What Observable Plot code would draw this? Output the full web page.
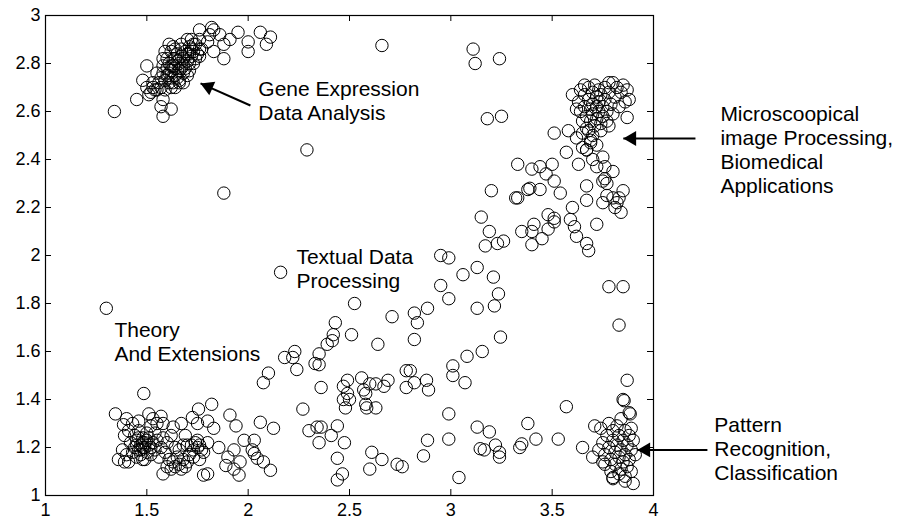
<!DOCTYPE html>
<html>
<head>
<meta charset="utf-8">
<script src="https://cdn.jsdelivr.net/npm/d3@7"></script>
<script src="https://cdn.jsdelivr.net/npm/@observablehq/plot@0.6"></script>
<style>
  html, body { margin: 0; padding: 0; background: #fff; }
</style>
</head>
<body>
<div id="chart"></div>
<script>
// ---- tick values / labels ----
const xTicks = [1, 1.5, 2, 2.5, 3, 3.5, 4];
const xTickLabels = ["1", "1.5", "2", "2.5", "3", "3.5", "4"];
const yTicks = [1, 1.2, 1.4, 1.6, 1.8, 2, 2.2, 2.4, 2.6, 2.8, 3];
const yTickLabels = ["1", "1.2", "1.4", "1.6", "1.8", "2", "2.2", "2.4", "2.6", "2.8", "3"];

// ---- point data [x, y] ----
const geneCore = [[1.56,2.72],[1.57,2.74],[1.58,2.76],[1.59,2.73],[1.60,2.75],[1.60,2.78],[1.61,2.72],[1.61,2.80],[1.62,2.74],[1.62,2.77],[1.63,2.79],[1.63,2.82],[1.64,2.75],[1.64,2.78],[1.65,2.81],[1.65,2.84],[1.66,2.77],[1.66,2.80],[1.67,2.83],[1.67,2.86],[1.68,2.79],[1.68,2.82],[1.69,2.85],[1.70,2.81],[1.70,2.84],[1.71,2.87],[1.72,2.83],[1.72,2.86],[1.73,2.85],[1.74,2.88],[1.60,2.82],[1.62,2.85],[1.65,2.74],[1.68,2.76],[1.58,2.79],[1.57,2.70],[1.59,2.69],[1.63,2.72],[1.66,2.73],[1.69,2.78],[1.75,2.84],[1.71,2.80],[1.64,2.86],[1.67,2.88],[1.61,2.88],[1.53,2.72],[1.54,2.69],[1.52,2.68],[1.58,2.82],[1.61,2.76],[1.64,2.82],[1.67,2.78],[1.70,2.75],[1.73,2.80],[1.76,2.86],[1.74,2.82],[1.71,2.77],[1.62,2.79]];
const geneOuter = [[1.34,2.60],[1.45,2.65],[1.50,2.79],[1.48,2.73],[1.51,2.67],[1.58,2.58],[1.57,2.62],[1.58,2.65],[1.62,2.61],[1.62,2.70],[1.50,2.70],[1.53,2.70],[1.55,2.69],[1.76,2.94],[1.72,2.90],[1.76,2.90],[1.82,2.95],[1.83,2.94],[1.86,2.92],[1.81,2.92],[1.80,2.89],[1.83,2.85],[1.88,2.82],[1.88,2.88],[1.91,2.90],[1.95,2.93],[2.00,2.89],[2.00,2.85],[2.06,2.93],[2.09,2.88],[2.11,2.91],[1.76,2.83],[1.77,2.86],[1.71,2.84],[1.68,2.72],[1.66,2.72],[1.64,2.70],[1.55,2.76],[1.59,2.85],[1.63,2.87],[1.70,2.90],[1.73,2.88],[1.88,2.26]];
const upperScatter = [[2.66,2.875],[3.11,2.86],[3.12,2.80],[3.24,2.82],[3.18,2.57],[3.25,2.58],[2.29,2.44],[3.33,2.38],[3.40,2.36],[3.44,2.37],[3.50,2.38],[3.47,2.34]];
const microCore = [[3.63,2.64],[3.64,2.60],[3.65,2.56],[3.66,2.67],[3.66,2.62],[3.67,2.58],[3.67,2.53],[3.68,2.70],[3.68,2.65],[3.69,2.61],[3.69,2.56],[3.70,2.68],[3.70,2.63],[3.70,2.59],[3.71,2.54],[3.71,2.71],[3.72,2.66],[3.72,2.62],[3.72,2.57],[3.73,2.69],[3.73,2.64],[3.73,2.60],[3.74,2.55],[3.74,2.67],[3.75,2.62],[3.75,2.58],[3.76,2.70],[3.76,2.65],[3.77,2.60],[3.77,2.56],[3.78,2.68],[3.79,2.63],[3.80,2.59],[3.81,2.66],[3.82,2.70],[3.83,2.62],[3.84,2.68],[3.86,2.64],[3.66,2.71],[3.64,2.69],[3.62,2.61],[3.65,2.51],[3.68,2.52],[3.70,2.50],[3.74,2.52],[3.78,2.54],[3.69,2.47],[3.72,2.46],[3.67,2.44]];
const rightTrack = [[3.51,2.51],[3.57,2.43],[3.58,2.52],[3.51,2.31],[3.54,2.26],[3.20,2.27],[3.32,2.24],[3.33,2.24],[3.38,2.275],[3.39,2.28],[3.44,2.275],[3.15,2.16],[3.19,2.10],[3.17,2.04],[3.23,2.05],[3.26,2.06],[3.35,2.10],[3.40,2.10],[3.41,2.13],[3.40,2.045],[3.45,2.07],[3.48,2.17],[3.51,2.155],[3.51,2.14],[3.48,2.11],[3.59,2.15],[3.60,2.20],[3.61,2.12],[3.62,2.08],[3.67,2.05],[3.68,2.02],[3.67,2.23],[3.67,2.29],[3.72,2.13],[3.75,2.22],[3.80,2.24],[3.82,2.22],[3.83,2.24],[3.85,2.27],[3.84,2.18],[3.81,2.20],[3.77,2.25],[3.63,2.38],[3.70,2.40],[3.72,2.37],[3.75,2.41],[3.76,2.37],[3.80,2.35],[3.76,2.32],[3.77,2.30],[3.75,2.31],[3.65,2.45],[3.67,2.44],[3.69,2.48],[3.62,2.49],[3.87,2.575],[3.88,2.65],[3.87,2.69],[3.85,2.71],[3.80,2.72],[3.78,2.72],[3.60,2.67]];
const textualMiddle = [[2.95,2.00],[2.99,1.99],[3.06,1.92],[3.13,1.95],[3.21,1.91],[2.95,1.875],[2.99,1.82],[3.235,1.84],[3.13,1.78],[3.215,1.79],[2.885,1.78],[2.82,1.76],[2.835,1.72],[2.82,1.65],[3.245,1.66],[3.155,1.60],[3.08,1.58],[3.01,1.54],[3.01,1.50],[3.07,1.47],[2.78,1.52],[2.80,1.52],[2.82,1.47],[2.78,1.45],[2.88,1.48],[2.89,1.44],[2.16,1.93],[2.525,1.80],[2.71,1.745],[2.43,1.72],[2.42,1.67],[2.39,1.63],[2.415,1.645],[2.51,1.67],[2.64,1.63],[2.23,1.60],[2.18,1.575],[2.22,1.575],[2.24,1.525],[2.35,1.59],[2.33,1.55],[2.35,1.545],[2.10,1.51],[2.075,1.47],[2.36,1.45],[2.49,1.48],[2.47,1.455],[2.49,1.425],[2.47,1.40],[2.56,1.49],[2.57,1.44],[2.58,1.425],[2.60,1.465],[2.63,1.465],[2.69,1.48],[2.67,1.455],[1.30,1.78],[1.485,1.425]];
const lowerMiddle = [[2.50,1.40],[2.48,1.365],[2.58,1.38],[2.585,1.365],[2.63,1.365],[2.27,1.36],[2.30,1.27],[2.34,1.285],[2.36,1.285],[2.44,1.29],[2.41,1.25],[2.35,1.22],[2.475,1.22],[2.44,1.155],[2.465,1.09],[2.44,1.065],[2.61,1.18],[2.66,1.15],[2.60,1.11],[2.735,1.13],[2.76,1.12],[2.865,1.165],[2.885,1.23],[2.99,1.34],[2.99,1.235],[3.04,1.075],[3.13,1.285],[3.19,1.265],[3.145,1.195],[3.165,1.19],[3.22,1.21],[3.24,1.18],[3.24,1.16],[3.34,1.20],[3.35,1.215],[3.38,1.30],[3.42,1.235],[3.53,1.235],[3.57,1.37]];
const patternOuter = [[3.78,1.87],[3.85,1.87],[3.83,1.71],[3.87,1.48],[3.85,1.40],[3.855,1.395],[3.88,1.345],[3.885,1.34],[3.65,1.20],[3.71,1.29],[3.70,1.16],[3.90,1.05],[3.80,1.075]];
const patternCore = [[3.74,1.28],[3.75,1.22],[3.76,1.17],[3.76,1.13],[3.77,1.25],[3.78,1.30],[3.78,1.20],[3.79,1.15],[3.79,1.10],[3.80,1.27],[3.80,1.23],[3.81,1.18],[3.81,1.13],[3.82,1.29],[3.82,1.21],[3.83,1.16],[3.83,1.25],[3.84,1.11],[3.84,1.19],[3.85,1.23],[3.85,1.14],[3.86,1.27],[3.86,1.17],[3.86,1.08],[3.87,1.21],[3.87,1.12],[3.88,1.25],[3.88,1.15],[3.89,1.19],[3.89,1.10],[3.90,1.23],[3.91,1.17],[3.84,1.32],[3.80,1.07],[3.86,1.06],[3.73,1.19],[3.75,1.14],[3.83,1.09],[3.89,1.28]];
const theoryCore = [[1.42,1.22],[1.43,1.18],[1.44,1.25],[1.44,1.20],[1.45,1.16],[1.45,1.23],[1.46,1.19],[1.46,1.27],[1.47,1.21],[1.47,1.17],[1.48,1.24],[1.48,1.20],[1.49,1.15],[1.49,1.22],[1.50,1.26],[1.50,1.18],[1.51,1.21],[1.51,1.24],[1.52,1.17],[1.52,1.29],[1.53,1.22],[1.54,1.19],[1.54,1.26],[1.55,1.23],[1.56,1.16],[1.57,1.20],[1.58,1.24],[1.59,1.18],[1.60,1.22],[1.61,1.15],[1.62,1.25],[1.41,1.27],[1.43,1.30],[1.46,1.31],[1.53,1.32],[1.55,1.30],[1.40,1.17],[1.41,1.14],[1.38,1.19],[1.39,1.25],[1.45,1.21],[1.47,1.19],[1.48,1.22],[1.49,1.20],[1.50,1.23],[1.46,1.24],[1.52,1.20]];
const theorySub = [[1.63,1.14],[1.64,1.12],[1.65,1.16],[1.66,1.13],[1.67,1.11],[1.68,1.15],[1.69,1.12],[1.70,1.14],[1.71,1.17],[1.66,1.19],[1.64,1.20],[1.62,1.11],[1.60,1.12],[1.72,1.21],[1.73,1.19],[1.74,1.22],[1.75,1.20],[1.76,1.21],[1.77,1.19],[1.75,1.23],[1.73,1.16],[1.76,1.15],[1.70,1.21],[1.68,1.21],[1.69,1.25]];
const theoryOuter = [[1.345,1.34],[1.36,1.15],[1.39,1.14],[1.40,1.32],[1.385,1.295],[1.51,1.34],[1.57,1.33],[1.58,1.30],[1.67,1.30],[1.63,1.285],[1.725,1.325],[1.75,1.30],[1.755,1.36],[1.82,1.38],[1.80,1.31],[1.83,1.28],[1.855,1.20],[1.80,1.22],[1.78,1.18],[1.91,1.335],[1.94,1.29],[2.06,1.305],[2.125,1.28],[1.98,1.23],[2.03,1.23],[2.02,1.19],[2.03,1.175],[1.93,1.19],[1.90,1.16],[1.96,1.14],[1.89,1.125],[1.93,1.11],[1.955,1.085],[2.075,1.14],[2.11,1.105],[2.045,1.155],[1.78,1.085],[1.80,1.09],[1.58,1.09],[1.48,1.15]];

// ---- annotations ----
const labelTexts = ["Gene Expression\nData Analysis", "Microscoopical\nimage Processing,\nBiomedical\nApplications", "Pattern\nRecognition,\nClassification", "Textual Data\nProcessing", "Theory\nAnd Extensions"];
const labelX = [2.05, 4.33, 4.30, 2.238, 1.34];
const labelY = [2.645, 2.442, 1.197, 1.948, 1.644];
// arrows: tail -> tip
const arrowTailX = [2.011, 4.207, 4.266];
const arrowTailY = [2.625, 2.4875, 1.19];
const arrowTipX = [1.765, 3.851, 3.92];
const arrowTipY = [2.717, 2.4875, 1.19];

const points = [geneCore, geneOuter, upperScatter, microCore, rightTrack, textualMiddle, lowerMiddle, patternOuter, patternCore, theoryCore, theorySub, theoryOuter]
  .flat().map(([x, y]) => ({x, y}));
const labels = labelTexts.map((t, i) => ({t, x: labelX[i], y: labelY[i]}));
const arrows = arrowTipX.map((x, i) => ({x1: arrowTailX[i], y1: arrowTailY[i], x2: x, y2: arrowTipY[i]}));

const chart = Plot.plot({
  width: 898,
  height: 520,
  marginLeft: 45,
  marginRight: 245,
  marginTop: 15,
  marginBottom: 25,
  style: {fontFamily: "Arial, 'Liberation Sans', sans-serif", fontSize: "18px", background: "#fff", color: "#000"},
  x: {domain: [1, 4], ticks: xTicks, tickSize: 0, tickPadding: 8, tickFormat: d => xTickLabels[xTicks.indexOf(d)], label: null},
  y: {domain: [1, 3], ticks: yTicks, tickSize: 0, tickPadding: 5, tickFormat: d => yTickLabels[yTicks.indexOf(d)], label: null},
  marks: [
    Plot.dot(points, {x: "x", y: "y", r: 6.2, fill: "none", stroke: "#000", strokeWidth: 1}),
    Plot.frame({stroke: "#000", strokeWidth: 1.2}),
    Plot.ruleX(xTicks, {x: d => d, insetTop: 474, stroke: "#000"}),
    Plot.ruleX(xTicks, {x: d => d, insetBottom: 474, stroke: "#000"}),
    Plot.ruleY(yTicks, {y: d => d, insetRight: 602, stroke: "#000"}),
    Plot.ruleY(yTicks, {y: d => d, insetLeft: 602, stroke: "#000"}),
    Plot.link(arrows, {x1: "x1", y1: "y1", x2: "x2", y2: "y2", stroke: "#000", strokeWidth: 2}),
    Plot.dot(arrows.slice(0, 1), {x: "x2", y: "y2", symbol: "triangle", r: 5.5, rotate: -66.2, fill: "#000", strokeWidth: 0, dx: 7.83, dy: 3.45}),
    Plot.dot(arrows.slice(1), {x: "x2", y: "y2", symbol: "triangle", r: 5.5, rotate: -90, fill: "#000", strokeWidth: 0, dx: 8.56}),
    Plot.text(labels, {x: "x", y: "y", text: "t", textAnchor: "start", lineAnchor: "middle", fontSize: 21, lineHeight: 1.15, fill: "#000"})
  ]
});
document.getElementById("chart").appendChild(chart);
</script>
</body>
</html>
